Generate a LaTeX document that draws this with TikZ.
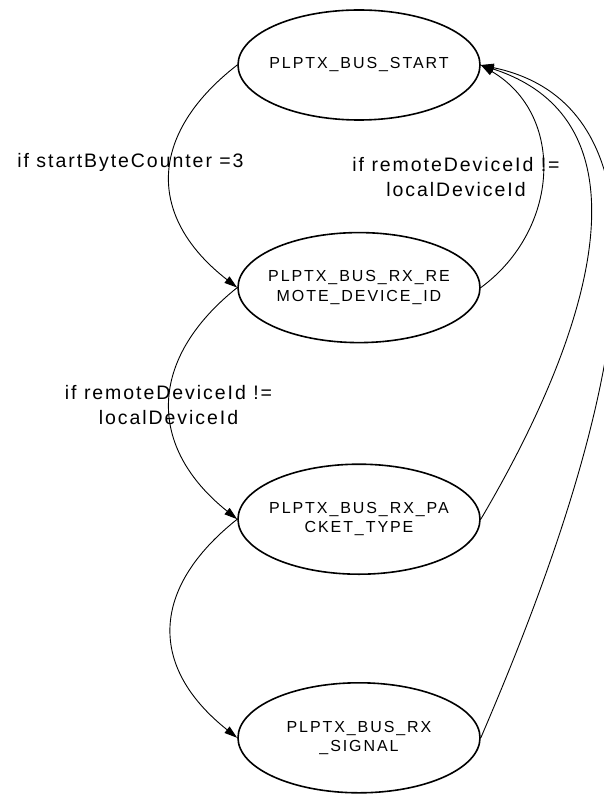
\documentclass[tikz,border=0pt]{standalone}
\usepackage{fontspec}
\newfontfamily\statefont[LetterSpace=12]{Liberation Sans}
\newfontfamily\condfont[LetterSpace=10]{Liberation Sans}
\usepackage{tikz}
\usetikzlibrary{shapes.geometric, arrows.meta, positioning}

\begin{document}
\begin{tikzpicture}[
    x=1pt, y=-1pt,
    state/.style={ellipse, draw, line width=1.6pt, inner xsep=-10pt, inner ysep=0pt, minimum width=242pt, minimum height=110pt, align=center, font=\statefont\fontsize{16}{19.5}\selectfont},
    cond/.style={align=center, font=\condfont\fontsize{19.5}{25}\selectfont},
    trans/.style={-{Triangle[length=13pt,width=8pt]}, line width=0.9pt},
]
\useasboundingbox (0,0) rectangle (604,794);
\clip (0,0) rectangle (604,794);

\node[state] (start) at (359,65) {PLPTX\_BUS\_START};
\node[state, below=111pt of start] (remote) {PLPTX\_BUS\_RX\_RE\\MOTE\_DEVICE\_ID};
\node[state, below=120pt of remote] (packet) {PLPTX\_BUS\_RX\_PA\\CKET\_TYPE};
\node[state, below=107pt of packet] (signal) {PLPTX\_BUS\_RX\\\_SIGNAL};

\node[cond, anchor=base] (lblcount) at (130.5,168) {if startByteCounter =3};
\node[cond, anchor=base] (lblback) at (456,197) {if remoteDeviceId !=\\localDeviceId};
\node[cond, anchor=base] (lblfwd) at (168.5,424) {if remoteDeviceId !=\\localDeviceId};

\draw[trans] (start.west) .. controls +(-90,70) and +(-90,-70) .. (remote.west);
\draw[trans] (remote.east) .. controls +(79,-58) and +(85,50) .. (start.east);
\draw[trans] (remote.west) .. controls +(-90,72) and +(-90,-72) .. (packet.west);
\draw[trans] (packet.east) .. controls +(118,-200) and +(170,55) .. (start.east);
\draw[trans] (packet.west) .. controls +(-88,70) and +(-88,-70) .. (signal.west);
\draw[trans] (signal.east) .. controls +(79,-184) and +(252,53) .. (start.east);

\end{tikzpicture}
\end{document}
